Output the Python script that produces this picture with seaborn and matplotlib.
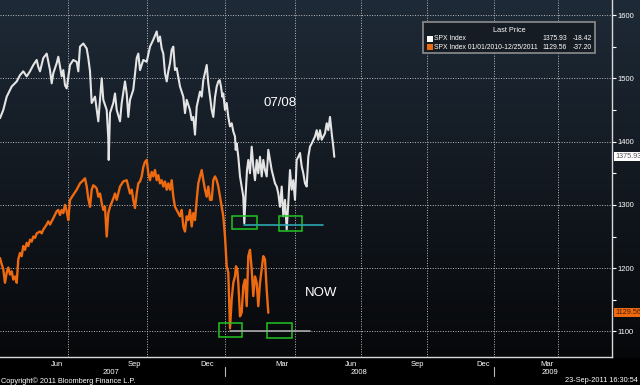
import numpy as np
import pandas as pd
import matplotlib
matplotlib.use("Agg")
import matplotlib.pyplot as plt
import matplotlib.transforms as mtrans
from matplotlib.patches import Rectangle
from matplotlib.lines import Line2D
import seaborn as sns

# ---------------- data ----------------
# x = chart position (trading-day scale of the Bloomberg axis), v = index level
white_x = [0, 3.3, 6.7, 11.7, 16.7, 20, 23.3, 26.7, 30, 33.3, 36.7, 38.3, 40, 43.3, 46.7, 50, 51.7, 53.3,
           56.7, 58.3, 60, 61.7, 63.3, 65, 66.7, 70, 73.3, 76.7, 78.3, 80, 83.3, 86.7, 88.3, 90, 91.7, 95,
           98.3, 101.7, 103.3, 106.7, 108.3, 108.7, 110, 113.3, 115, 116.7, 120, 121.7, 125, 126.7, 128.3,
           130, 133.3, 136.7, 138.3, 140, 143.3, 146.7, 150, 153.3, 156.7, 158.3, 160, 161.7, 163.3, 165,
           166.7, 168.3, 170, 171.7, 173.3, 175, 176.7, 180, 183.3, 185, 186.7, 190, 191.7, 193.3, 195,
           196.7, 200, 201.7, 203.3, 206.7, 208.3, 210, 211.7, 213.3, 215, 216.7, 218.3, 219.7, 221, 222.3,
           223.3, 225, 226.7, 228.3, 230, 231.7, 233.3, 235, 235.7, 236.7, 238.3, 240, 241.7, 243.3, 244.3,
           245.7, 247, 248.3, 250, 251.7, 253.3, 255, 256.7, 258.3, 260, 261.7, 263.3, 265, 266.7, 268.3,
           270, 271.7, 273.3, 275, 276.7, 278.3, 280, 281.7, 283.3, 285, 286.7, 288.3, 290, 291.7, 293.3,
           295, 296.7, 298.3, 300, 301.7, 303.3, 305, 306.7, 308.3, 310, 311.7, 315, 316.7, 318.3, 320,
           321.7, 323.3, 325, 326.7, 328.3, 330, 331.7, 333.3, 334.3]
white_v = [1437, 1450, 1471, 1487, 1495, 1505, 1511, 1503, 1511, 1521, 1529, 1518, 1511, 1532, 1539, 1513,
           1492, 1508, 1524, 1534, 1518, 1503, 1513, 1489, 1484, 1521, 1529, 1526, 1511, 1550, 1555, 1547,
           1532, 1511, 1461, 1471, 1432, 1500, 1466, 1450, 1405, 1371, 1445, 1461, 1476, 1450, 1432, 1461,
           1495, 1476, 1439, 1466, 1482, 1532, 1539, 1513, 1529, 1526, 1550, 1561, 1574, 1558, 1566, 1547,
           1539, 1508, 1495, 1511, 1524, 1545, 1550, 1513, 1516, 1487, 1471, 1445, 1466, 1450, 1434, 1439,
           1411, 1455, 1479, 1471, 1497, 1521, 1492, 1471, 1450, 1439, 1470, 1487, 1495, 1497, 1487, 1471,
           1476, 1450, 1461, 1439, 1424, 1429, 1416, 1408, 1387, 1397, 1376, 1345, 1329, 1313, 1271, 1318,
           1355, 1371, 1350, 1392, 1361, 1339, 1371, 1350, 1376, 1345, 1371, 1355, 1345, 1387, 1371, 1355,
           1345, 1334, 1329, 1318, 1297, 1329, 1282, 1308, 1261, 1303, 1355, 1324, 1339, 1308, 1371, 1376,
           1382, 1361, 1350, 1334, 1329, 1376, 1392, 1397, 1408, 1418, 1403, 1418, 1403, 1408, 1413, 1429,
           1418, 1439, 1413, 1392, 1375.93]

orange_x = [0, 1.7, 3.3, 5, 6.7, 8.3, 10, 11.7, 13.3, 15, 16.7, 18.3, 20, 21.7, 23.3, 25, 26.7, 28.3, 30,
            31.7, 33.3, 35, 36.7, 40, 41.7, 43.3, 46.7, 48.3, 50, 53.3, 56.7, 58.3, 60, 61.7, 63.3, 65, 66.7,
            68.3, 70, 73.3, 76.7, 80, 83.3, 85, 86.7, 88.3, 90, 91.7, 93.3, 95, 96.7, 98.3, 100, 101.7, 103.3,
            105, 106.7, 108.3, 110, 113.3, 115, 116.7, 120, 123.3, 126.7, 128.3, 130, 131.7, 133.3, 135,
            136.7, 138.3, 140, 141.7, 143.3, 145, 146.7, 148.3, 150, 151.7, 153.3, 155, 156.7, 158.3, 160,
            161.7, 163.3, 165, 166.7, 168.3, 170, 171.7, 173.3, 175, 176.7, 178.3, 180, 181.7, 183.3, 185,
            186.7, 188.3, 190, 191.7, 193.3, 195, 196.7, 198.3, 200, 201.7, 203.3, 205, 206.7, 208.3, 210,
            211.7, 213.3, 215, 216.7, 218.3, 220, 221.7, 223.3, 225, 226.7, 228.3, 230, 231.7, 233.3, 235,
            236, 237.3, 238.3, 240, 241.7, 243.3, 245, 246.7, 248.3, 250, 251.7, 253.3, 255, 256.7, 258.3,
            260, 261.7, 263.3, 265, 266.7, 268.3]
orange_v = [1216, 1206, 1198, 1177, 1193, 1201, 1190, 1195, 1182, 1187, 1177, 1214, 1224, 1219, 1235, 1229,
            1240, 1235, 1245, 1242, 1250, 1248, 1255, 1258, 1255, 1261, 1269, 1274, 1269, 1279, 1290, 1292,
            1284, 1292, 1287, 1300, 1290, 1276, 1308, 1316, 1324, 1334, 1339, 1342, 1329, 1310, 1297, 1324,
            1331, 1329, 1326, 1313, 1318, 1303, 1292, 1297, 1250, 1287, 1297, 1310, 1318, 1308, 1329, 1337,
            1339, 1329, 1318, 1324, 1308, 1295, 1318, 1334, 1337, 1345, 1360, 1368, 1371, 1350, 1339, 1352,
            1345, 1355, 1339, 1347, 1334, 1339, 1329, 1337, 1324, 1334, 1324, 1339, 1313, 1297, 1292, 1287,
            1282, 1292, 1266, 1258, 1282, 1276, 1292, 1266, 1287, 1276, 1308, 1334, 1345, 1355, 1339, 1324,
            1313, 1329, 1308, 1308, 1339, 1345, 1339, 1329, 1313, 1297, 1282, 1250, 1203, 1193, 1105, 1151,
            1177, 1187, 1203, 1198, 1177, 1124, 1130, 1172, 1182, 1140, 1219, 1229, 1198, 1156, 1187, 1177,
            1140, 1177, 1198, 1219, 1214, 1166, 1129.56]

y_ticks = [1100, 1200, 1300, 1400, 1500, 1600]
y_minor = [1150, 1250, 1350, 1450, 1550]
month_ticks = [17, 44, 68, 94, 122, 147, 173, 200, 225, 252, 277, 295, 315, 339, 361, 383, 406, 427,
               450, 472, 494, 517, 537, 558, 581, 603]
quarter_grid = [68, 147, 225, 295, 361, 427, 494, 558]
month_labels = ["Jun", "Sep", "Dec", "Mar", "Jun", "Sep", "Dec", "Mar"]
month_label_pos = [57, 134, 207, 282, 351, 417, 483, 547]
year_labels = ["2007", "2008", "2009"]
year_label_pos = [111, 359, 550]
year_separators = [225, 494]

legend_names = ["SPX Index", "SPX Index 01/01/2010-12/25/2011"]
legend_last = ["1375.93", "1129.56"]
legend_change = ["-18.42", "-37.20"]

# annotation marks (x range, value range)
green_boxes = [(232, 257, 1262, 1282.5), (279, 302, 1259, 1282.5),
               (219, 242, 1091, 1113), (267, 292, 1090, 1113)]
cyan_level = (244, 323, 1268)
gray_level = (230, 310, 1100)
notes = [("07/08", 280, 1461), ("NOW", 321, 1161)]

WHITE = "#e4e4e4"
ORANGE = "#ee6a10"

# ---------------- figure ----------------
sns.set_style("dark")
plt.rcParams["font.family"] = ["Liberation Sans", "DejaVu Sans"]

fig = plt.figure(figsize=(6.4, 3.85), dpi=100)
fig.patch.set_facecolor("black")

# vertical gradient background
bg = fig.add_axes([0, 0, 1, 1], zorder=0)
r = np.arange(385)
t = np.clip(r / 357.0, 0, 1)[:, None]
top = np.array([30, 42, 55]) / 255.0
bot = np.array([7, 8, 10]) / 255.0
col = top * (1 - t) + bot * t
col[r > 357] = 0
img = np.repeat(col[:, None, :], 2, axis=1)
bg.imshow(img, aspect="auto", extent=[0, 1, 0, 1], interpolation="bilinear")
bg.axis("off")

ax = fig.add_axes([0, 1 - 357 / 385, 612 / 640, 357 / 385], zorder=1)
ax.patch.set_alpha(0)

dfw = pd.DataFrame({"x": white_x, "v": white_v})
dfo = pd.DataFrame({"x": orange_x, "v": orange_v})
sns.lineplot(data=dfo, x="x", y="v", ax=ax, color=ORANGE, lw=1.7, estimator=None, sort=False, zorder=3)
sns.lineplot(data=dfw, x="x", y="v", ax=ax, color=WHITE, lw=1.5, estimator=None, sort=False, zorder=3)

ax.set_xlim(0, 612)
ax.set_ylim(1059.7, 1623.7)
ax.set_xlabel("")
ax.set_ylabel("")

# grid
gstyle = dict(color="#bdbdbd", lw=0.7, linestyle=(0, (1, 1.6)), zorder=1)
for yv in y_ticks:
    ax.axhline(yv, **gstyle)
for xv in quarter_grid:
    ax.axvline(xv, **gstyle)
ax.grid(False)

# axes styling
for s in ["left", "top"]:
    ax.spines[s].set_visible(False)
for s in ["right", "bottom"]:
    ax.spines[s].set_color("#d8d8d8")
    ax.spines[s].set_linewidth(1.0)
ax.yaxis.tick_right()
ax.set_yticks(y_ticks)
ax.set_yticks(y_minor, minor=True)
ax.set_yticklabels([str(v) for v in y_ticks])
ax.tick_params(axis="y", which="both", direction="out", length=3, width=0.8,
               colors="white", labelsize=5.5, pad=1)
ax.set_xticks(month_ticks)
ax.set_xticklabels([])
ax.tick_params(axis="x", which="both", direction="out", length=2, width=0.8, colors="#d0d0d0")

# x labels
btr = mtrans.blended_transform_factory(ax.transData, fig.transFigure)
for lab, xp in zip(month_labels, month_label_pos):
    ax.text(xp, 1 - 364 / 385, lab, transform=btr, ha="center", va="center",
            fontsize=5.5, color="white", clip_on=False)
for lab, xp in zip(year_labels, year_label_pos):
    ax.text(xp, 1 - 372 / 385, lab, transform=btr, ha="center", va="center",
            fontsize=5.5, color="white", clip_on=False)
for xp in year_separators:
    ax.add_line(Line2D([xp, xp], [1 - 367 / 385, 1 - 376 / 385], transform=btr,
                       color="#bbbbbb", lw=0.8, clip_on=False))

fig.text(1 / 640, 1 - 381 / 385, "Copyright\u00a9 2011 Bloomberg Finance L.P.", ha="left", va="center",
         fontsize=5.3, color="white")
fig.text(638 / 640, 1 - 381 / 385, "23-Sep-2011 16:30:54", ha="right", va="center",
         fontsize=5.3, color="white")

# annotations
for x0, x1, v0, v1 in green_boxes:
    ax.add_patch(Rectangle((x0, v0), x1 - x0, v1 - v0, fill=False, ec="#22c422", lw=1.1, zorder=4))
ax.plot([cyan_level[0], cyan_level[1]], [cyan_level[2]] * 2, color="#2ca6b0", lw=1.2, zorder=4)
ax.plot([gray_level[0], gray_level[1]], [gray_level[2]] * 2, color="#a8a8a8", lw=1.2, zorder=4)
for txt, xp, vp in notes:
    ax.text(xp, vp, txt, ha="center", va="center", fontsize=9.5, color="white", zorder=5)

# last-price tags on the right axis
tagtr = mtrans.blended_transform_factory(ax.transAxes, ax.transData)
ax.text(1 + 3 / 612, float(white_v[-1]), legend_last[0], transform=tagtr, ha="left", va="center",
        fontsize=5.2, color="#555555", clip_on=False, zorder=6,
        bbox=dict(boxstyle="square,pad=0.15", fc="white", ec="none"))
ax.text(1 + 3 / 612, float(orange_v[-1]), legend_last[1], transform=tagtr, ha="left", va="center",
        fontsize=5.2, color="#4a1a00", clip_on=False, zorder=6,
        bbox=dict(boxstyle="square,pad=0.15", fc=ORANGE, ec="none"))

# legend box
def fx(px):
    return px / 640.0

def fy(py):
    return 1 - py / 385.0

ax.add_patch(Rectangle((fx(423), fy(53)), fx(595) - fx(423), fy(22) - fy(53), transform=fig.transFigure,
                       fc="#161c23", ec="#8c8c8c", lw=1.2, zorder=7, clip_on=False))
ax.text(fx(509), fy(31), "Last Price", transform=fig.transFigure, ha="center", va="center",
        fontsize=5.3, color="white", zorder=8)
for i, (nm, last, chg, c) in enumerate(zip(legend_names, legend_last, legend_change, [WHITE, ORANGE])):
    yy = 39 + 8.3 * i
    ax.add_patch(Rectangle((fx(426.5), fy(yy + 3)), fx(6), 6 / 385, transform=fig.transFigure,
                           fc="white" if i == 0 else c, ec="none", zorder=8, clip_on=False))
    ax.text(fx(434), fy(yy), nm, transform=fig.transFigure, ha="left", va="center",
            fontsize=4.9, color="white", zorder=8)
    ax.text(fx(567), fy(yy), last, transform=fig.transFigure, ha="right", va="center",
            fontsize=4.9, color="white", zorder=8)
    ax.text(fx(592), fy(yy), chg, transform=fig.transFigure, ha="right", va="center",
            fontsize=4.9, color="white", zorder=8)

fig.savefig("out.png", dpi=100, facecolor=fig.get_facecolor())
